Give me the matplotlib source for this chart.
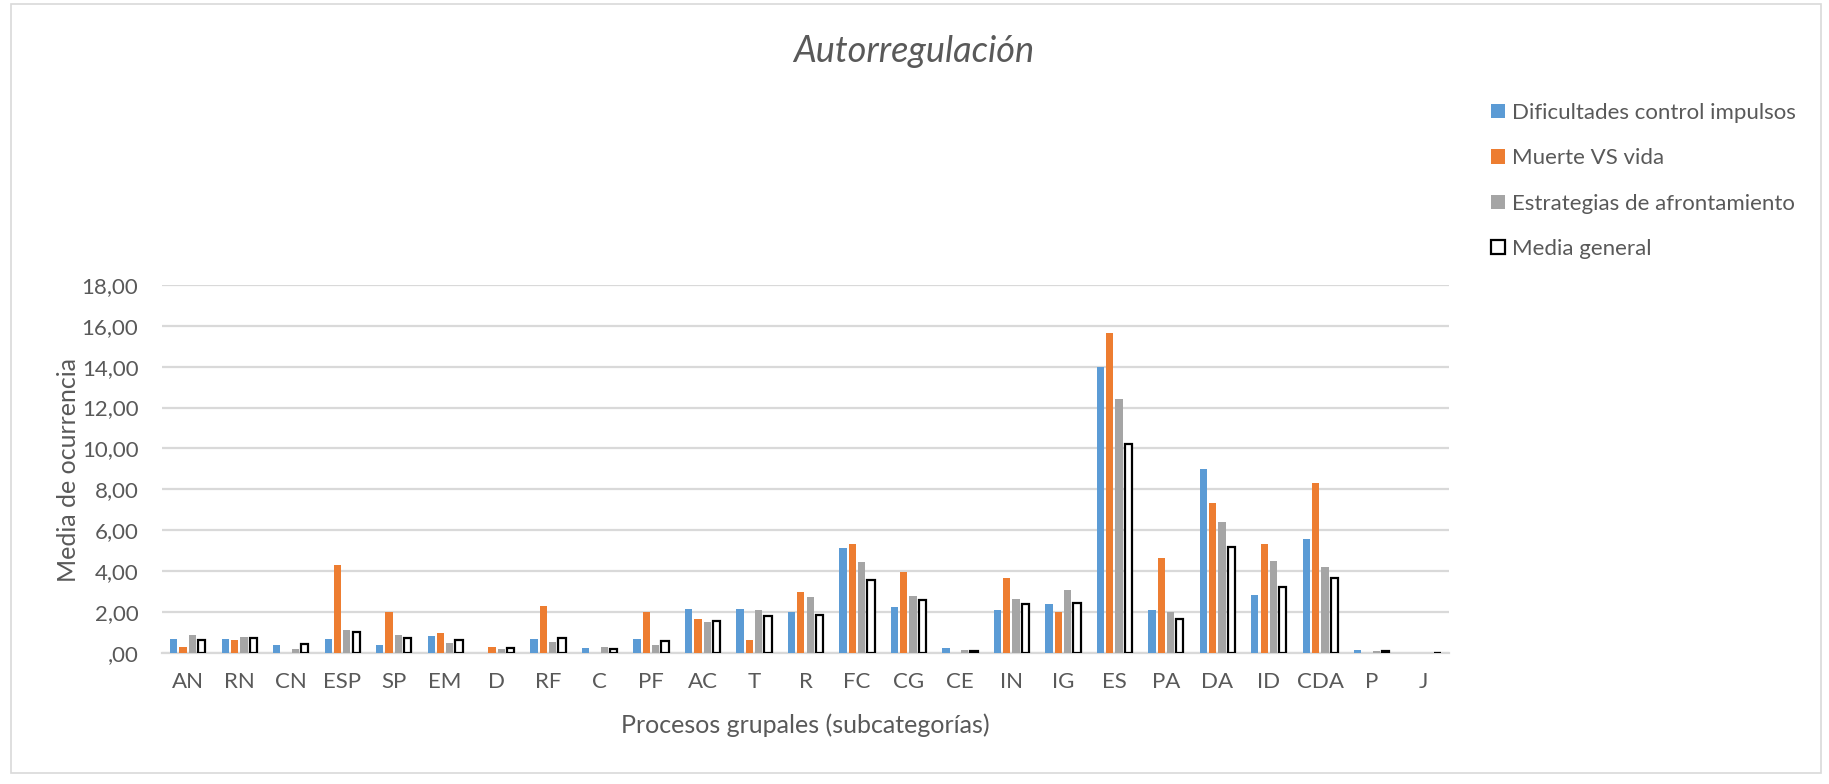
import matplotlib
matplotlib.use("Agg")
import matplotlib.pyplot as plt
from matplotlib.patches import Rectangle
from matplotlib.ticker import FuncFormatter, MultipleLocator
import numpy as np

categories = ["AN", "RN", "CN", "ESP", "SP", "EM", "D", "RF", "C", "PF", "AC", "T", "R",
              "FC", "CG", "CE", "IN", "IG", "ES", "PA", "DA", "ID", "CDA", "P", "J"]

dificultades = [0.67, 0.67, 0.38, 0.67, 0.38, 0.82, 0.00, 0.67, 0.24, 0.67, 2.12, 2.12, 1.98,
                5.11, 2.25, 0.24, 2.10, 2.38, 14.00, 2.09, 8.98, 2.81, 5.55, 0.12, 0.00]
muerte_vida = [0.29, 0.62, 0.00, 4.29, 1.98, 0.98, 0.29, 2.30, 0.00, 1.98, 1.63, 0.62, 2.97,
               5.31, 3.96, 0.00, 3.64, 1.98, 15.66, 4.62, 7.31, 5.31, 8.32, 0.00, 0.00]
estrategias = [0.87, 0.77, 0.20, 1.13, 0.85, 0.47, 0.20, 0.52, 0.28, 0.39, 1.50, 2.09, 2.73,
               4.42, 2.78, 0.15, 2.61, 3.05, 12.43, 2.00, 6.38, 4.49, 4.21, 0.07, 0.00]
media_general = [0.61, 0.70, 0.44, 1.03, 0.70, 0.62, 0.22, 0.70, 0.20, 0.59, 1.55, 1.80, 1.85,
                 3.56, 2.58, 0.10, 2.40, 2.45, 10.21, 1.65, 5.19, 3.22, 3.67, 0.07, 0.00]

series_names = ["Dificultades control impulsos", "Muerte VS vida",
                "Estrategias de afrontamiento", "Media general"]

TEXT = "#595959"
GRID = "#d9d9d9"
FONT = "Lato"

plt.rcParams["font.family"] = [FONT, "DejaVu Sans"]

W, H = 1829, 784
fig = plt.figure(figsize=(W / 100, H / 100), dpi=100)
fig.patch.set_facecolor("white")

# outer chart border
fig.patches.append(Rectangle((11 / W, 1 - 773 / H), (1821 - 11) / W, (773 - 4) / H,
                             transform=fig.transFigure, fill=False,
                             edgecolor=GRID, linewidth=1.2))

ax = fig.add_axes([162 / W, 1 - 652.7 / H, (1449 - 162) / W, (652.7 - 285) / H])

x = np.arange(len(categories))
step = 0.181
bw = 0.142
colors = ["#5B9BD5", "#ED7D31", "#A5A5A5"]
handles = []
for j, (vals, col) in enumerate(zip([dificultades, muerte_vida, estrategias], colors)):
    h = ax.bar(x + (j - 1.5) * step, vals, width=bw, color=col, linewidth=0, zorder=3,
               label=series_names[j])
    handles.append(h)
h = ax.bar(x + 1.5 * step, media_general, width=bw, facecolor="white", edgecolor="black",
           linewidth=1.6, zorder=3, label=series_names[3])
handles.append(h)

ax.set_xlim(-0.5, len(categories) - 0.5)
ax.set_ylim(0, 18)
ax.yaxis.set_major_locator(MultipleLocator(2))
ax.yaxis.set_major_formatter(FuncFormatter(
    lambda v, p: ",00" if v == 0 else f"{v:.2f}".replace(".", ",")))
ax.set_xticks(x)
ax.set_xticklabels(categories)
ax.grid(axis="y", color=GRID, linewidth=1.6, zorder=0)
ax.set_axisbelow(True)
for s in ["top", "right", "left"]:
    ax.spines[s].set_visible(False)
ax.spines["bottom"].set_color(GRID)
ax.spines["bottom"].set_linewidth(1.6)
ax.tick_params(axis="both", length=0, colors=TEXT, labelsize=16)
ax.tick_params(axis="y", pad=17)
ax.tick_params(axis="x", pad=14)

fig.text(914 / W, 1 - 61.7 / H, "Autorregulación", ha="center", va="baseline",
         fontsize=26, style="italic", color=TEXT)
fig.text(805 / W, 1 - 733 / H, "Procesos grupales (subcategorías)", ha="center",
         va="baseline", fontsize=18, color=TEXT)
fig.text(68 / W, 1 - 470 / H, "Media de ocurrencia", ha="center", va="center",
         rotation=90, fontsize=18, color=TEXT)

fig.legend(handles=handles, labels=series_names, loc="upper left",
           bbox_to_anchor=(1491 / W, 1 - 103 / H), frameon=False, fontsize=16,
           handlelength=0.63, handleheight=0.63, handletextpad=0.32,
           labelspacing=1.14, borderpad=0, borderaxespad=0, labelcolor=TEXT)

fig.savefig("out.png", dpi=100, facecolor="white")
